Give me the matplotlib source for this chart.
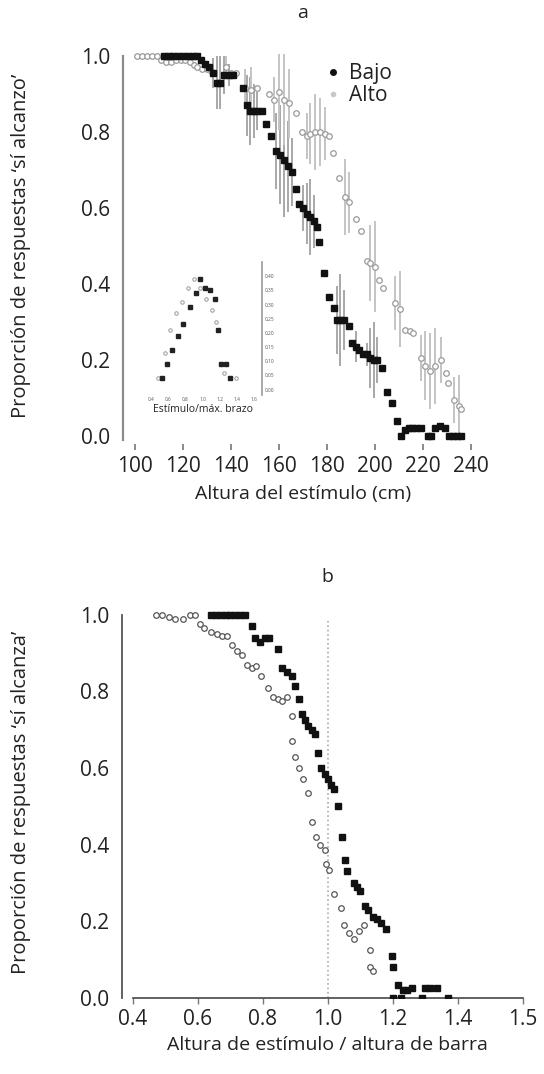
import matplotlib
matplotlib.use('Agg')
import matplotlib.pyplot as plt
from matplotlib.lines import Line2D

plt.rcParams['font.family'] = ['Open Sans', 'DejaVu Sans']

# --- panel a: altura del estimulo (cm) ---
bajo_a_x = [112, 114, 116, 118, 120, 122, 124, 126, 127.5, 129,
            131, 132.5, 134, 135.5, 137, 139, 141, 145, 146.5, 148,
            149.5, 151, 153, 154.6, 156.7, 158.8, 160.5, 162, 163.8, 165.5,
            167, 168.5, 170, 171.5, 173, 174.5, 175.8, 176.8, 178.7, 180.8,
            182.8, 184, 185.5, 187, 189, 190.5, 192, 193.5, 195, 196.5,
            198, 199.5, 201, 202.7, 204.8, 207, 209, 211, 212.5, 214,
            215.5, 217, 219, 222, 223.5, 225, 227, 229, 231, 232.5,
            234, 236]
bajo_a_y = [1.0, 1.0, 1.0, 1.0, 1.0, 1.0, 1.0, 1.0, 0.99, 0.98,
            0.97, 0.955, 0.93, 0.93, 0.95, 0.95, 0.95, 0.915, 0.87, 0.855,
            0.855, 0.855, 0.855, 0.82, 0.79, 0.75, 0.74, 0.725, 0.71, 0.695,
            0.65, 0.61, 0.60, 0.585, 0.575, 0.565, 0.55, 0.51, 0.43, 0.366,
            0.337, 0.305, 0.305, 0.305, 0.29, 0.245, 0.235, 0.225, 0.215, 0.215,
            0.205, 0.20, 0.20, 0.18, 0.115, 0.086, 0.04, 0.0, 0.015, 0.02,
            0.02, 0.02, 0.02, 0.0, 0.0, 0.02, 0.025, 0.02, 0.0, 0.0,
            0.0, 0.0]
bajo_a_err = [0, 0, 0, 0, 0, 0, 0, 0, 0, 0,
              0, 0.04, 0.07, 0.07, 0.05, 0.03, 0, 0, 0.08, 0.09,
              0.07, 0.05, 0, 0, 0, 0.10, 0.13, 0.15, 0.12, 0.09,
              0, 0, 0.06, 0.08, 0.10, 0.07, 0, 0, 0, 0,
              0, 0.09, 0.12, 0.08, 0, 0, 0.04, 0, 0, 0.03,
              0.08, 0.10, 0.06, 0, 0, 0, 0, 0, 0, 0,
              0, 0, 0, 0, 0, 0, 0, 0, 0, 0,
              0, 0]

alto_a_x = [101, 103, 105, 107, 109, 111, 113, 115, 117, 119,
            121, 123, 124.5, 126, 128, 130, 131.5, 138, 140, 142,
            146, 148.5, 151, 156, 158, 160, 162, 164, 167, 169.6,
            171.5, 173, 175, 177, 179, 181, 182.5, 185, 187.5, 189,
            192, 194, 196.5, 198, 200, 201.5, 203.5, 208.5, 210.5, 212.6,
            214.5, 216, 219, 221, 223, 225, 227.6, 229.7, 230.5, 233,
            235, 236]
alto_a_y = [1.0, 1.0, 1.0, 1.0, 1.0, 0.99, 0.985, 0.985, 0.99, 0.99,
            0.99, 0.985, 0.975, 0.97, 0.965, 0.965, 0.96, 0.97, 0.955, 0.955,
            0.915, 0.91, 0.915, 0.90, 0.885, 0.905, 0.885, 0.875, 0.85, 0.80,
            0.79, 0.795, 0.80, 0.80, 0.795, 0.79, 0.745, 0.68, 0.63, 0.615,
            0.57, 0.54, 0.46, 0.455, 0.445, 0.41, 0.39, 0.35, 0.335, 0.28,
            0.275, 0.27, 0.205, 0.185, 0.17, 0.185, 0.20, 0.165, 0.14, 0.095,
            0.08, 0.07]
alto_a_err = [0, 0, 0, 0, 0, 0, 0, 0, 0, 0,
              0, 0, 0, 0, 0, 0, 0, 0.03, 0, 0,
              0.05, 0.06, 0, 0, 0.06, 0.10, 0.12, 0.09, 0, 0,
              0.06, 0.08, 0.10, 0.09, 0.07, 0, 0, 0, 0.10, 0.08,
              0, 0, 0, 0.10, 0.12, 0, 0, 0.07, 0.10, 0,
              0, 0, 0.06, 0.09, 0.10, 0.10, 0.06, 0, 0, 0.06,
              0.08, 0]

# --- inset: estimulo / max. brazo ---
ins_bajo_x = [0.52, 0.58, 0.64, 0.71, 0.77, 0.85, 0.92, 0.97, 1.03, 1.09,
              1.14, 1.18, 1.21, 1.28, 1.32]
ins_bajo_y = [0.04, 0.09, 0.14, 0.19, 0.23, 0.29, 0.34, 0.39, 0.36, 0.35,
              0.32, 0.21, 0.09, 0.09, 0.04]
ins_alto_x = [0.48, 0.56, 0.62, 0.69, 0.76, 0.83, 0.90, 0.97, 1.04, 1.11,
              1.16, 1.25, 1.39]
ins_alto_y = [0.04, 0.13, 0.21, 0.27, 0.31, 0.36, 0.39, 0.36, 0.32, 0.28,
              0.24, 0.06, 0.04]

# --- panel b: altura de estimulo / altura de barra ---
bajo_b_x = [0.64, 0.655, 0.67, 0.685, 0.70, 0.715, 0.73, 0.745, 0.765, 0.775,
            0.79, 0.805, 0.82, 0.846, 0.86, 0.875, 0.89, 0.90, 0.91, 0.92,
            0.93, 0.94, 0.95, 0.96, 0.97, 0.98, 0.99, 1.00, 1.01, 1.02,
            1.03, 1.045, 1.054, 1.06, 1.08, 1.09, 1.10, 1.115, 1.125, 1.14,
            1.15, 1.165, 1.18, 1.197, 1.20, 1.215, 1.23, 1.245, 1.26, 1.30,
            1.315, 1.335, 1.20, 1.225, 1.29, 1.37]
bajo_b_y = [1.0, 1.0, 1.0, 1.0, 1.0, 1.0, 1.0, 1.0, 0.97, 0.94,
            0.93, 0.94, 0.94, 0.91, 0.86, 0.85, 0.84, 0.815, 0.78, 0.74,
            0.725, 0.71, 0.70, 0.69, 0.64, 0.60, 0.585, 0.57, 0.555, 0.545,
            0.50, 0.42, 0.36, 0.33, 0.30, 0.29, 0.28, 0.24, 0.23, 0.21,
            0.205, 0.195, 0.18, 0.11, 0.08, 0.035, 0.02, 0.02, 0.025, 0.025,
            0.025, 0.025, 0.0, 0.0, 0.0, 0.0]
alto_b_x = [0.47, 0.49, 0.51, 0.53, 0.555, 0.575, 0.59, 0.605, 0.62, 0.64,
            0.66, 0.675, 0.69, 0.705, 0.72, 0.735, 0.75, 0.765, 0.78, 0.795,
            0.815, 0.83, 0.845, 0.86, 0.875, 0.89, 0.89, 0.90, 0.91, 0.925,
            0.94, 0.95, 0.965, 0.975, 0.99, 0.995, 1.005, 1.02, 1.04, 1.05,
            1.065, 1.08, 1.095, 1.11, 1.13, 1.13, 1.14]
alto_b_y = [1.0, 1.0, 0.995, 0.99, 0.99, 1.0, 1.0, 0.975, 0.965, 0.955,
            0.95, 0.945, 0.945, 0.92, 0.905, 0.895, 0.87, 0.86, 0.865, 0.84,
            0.81, 0.785, 0.78, 0.775, 0.785, 0.735, 0.67, 0.63, 0.60, 0.57,
            0.535, 0.46, 0.42, 0.40, 0.385, 0.35, 0.335, 0.27, 0.235, 0.19,
            0.17, 0.155, 0.175, 0.19, 0.125, 0.08, 0.07]

yticks = [0.0, 0.2, 0.4, 0.6, 0.8, 1.0]
xticks_a = [100, 120, 140, 160, 180, 200, 220, 240]
xticks_b = [0.4, 0.6, 0.8, 1.0, 1.2, 1.4, 1.6]
xticklabels_b = ['0.4', '0.6', '0.8', '1.0', '1.2', '1.4', '1.5']

txt = '#222222'
grey = '#8a8a8a'
fig = plt.figure(figsize=(5.44, 10.74), dpi=100)

# ---------------- panel a ----------------
ax = fig.add_axes([0.226, 0.587, 0.662, 0.368])
ax.errorbar(bajo_a_x, bajo_a_y, yerr=bajo_a_err, fmt='none', ecolor='#a8a8a8',
            elinewidth=1.4, capsize=0, zorder=1)
ax.errorbar(alto_a_x, alto_a_y, yerr=alto_a_err, fmt='none', ecolor='#c4c4c4',
            elinewidth=1.4, capsize=0, zorder=1)
ax.plot(alto_a_x, alto_a_y, 'o', ms=4, mfc='white', mec='#9a9a9a', mew=0.9, zorder=2)
ax.plot(bajo_a_x, bajo_a_y, 's', ms=4, color='#111111', zorder=3)
ax.set_xlim(95, 245)
ax.set_ylim(-0.02, 1.02)
ax.set_xticks(xticks_a)
ax.set_yticks(yticks)
ax.set_yticklabels([f'{v:.1f}' for v in yticks])
for s in ['top', 'right', 'bottom']:
    ax.spines[s].set_visible(False)
ax.spines['left'].set_color(grey)
ax.spines['left'].set_linewidth(1.6)
ax.spines['left'].set_bounds(-0.01, 1.0)
ax.tick_params(axis='x', length=4, width=1.2, color='#777777', labelsize=15,
               labelcolor=txt, pad=5)
ax.tick_params(axis='y', length=0, labelsize=15, labelcolor=txt, pad=9)
ax.set_xlabel('Altura del estímulo (cm)', fontsize=14, color=txt, labelpad=6)
ax.set_ylabel('Proporción de respuestas ‘sí alcanzo’', fontsize=14.5, color=txt)
ax.yaxis.set_label_coords(-0.255, 0.5)
ax.set_title('a', fontsize=14, color=txt, pad=22)

handles = [Line2D([], [], marker='o', ls='none', ms=4, color='#111111'),
           Line2D([], [], marker='o', ls='none', ms=3, color='#c8c8c8')]
ax.legend(handles, ['Bajo', 'Alto'], loc='upper right', bbox_to_anchor=(0.80, 1.01),
          frameon=False, fontsize=15, handletextpad=0.3, labelspacing=0.05,
          handlelength=1.0, labelcolor=txt)

# inset
ins = fig.add_axes([0.263, 0.632, 0.219, 0.124])
ins.plot(ins_alto_x, ins_alto_y, 'o', ms=2.5, mfc='white', mec='#999999', mew=0.7)
ins.plot(ins_bajo_x, ins_bajo_y, 's', ms=2.5, color='#222222')
ins.set_xlim(0.3, 1.7)
ins.set_ylim(-0.02, 0.45)
ins.patch.set_alpha(0)
for s in ['top', 'left', 'bottom']:
    ins.spines[s].set_visible(False)
ins.spines['right'].set_color('#999999')
ins.spines['right'].set_linewidth(1.2)
ins.yaxis.tick_right()
ins.set_yticks([0, 0.05, 0.1, 0.15, 0.2, 0.25, 0.3, 0.35, 0.4])
ins.tick_params(axis='y', length=0, labelsize=3.5, labelcolor='#555555', pad=2)
ins.set_xticks([0.4, 0.6, 0.8, 1.0, 1.2, 1.4, 1.6])
ins.tick_params(axis='x', length=0, labelsize=3.5, labelcolor='#555555', pad=1)
ins.set_xlabel('Estímulo/máx. brazo', fontsize=7.5, color=txt, labelpad=2)

# ---------------- panel b ----------------
bx = fig.add_axes([0.224, 0.0708, 0.755, 0.364])
bx.plot([1.0, 1.0], [0, 0.985], ls=':', color='#aaaaaa', lw=1.2, zorder=1)
bx.plot(alto_b_x, alto_b_y, 'o', ms=4, mfc='white', mec='#555555', mew=0.9, zorder=2)
bx.plot(bajo_b_x, bajo_b_y, 's', ms=4, color='#111111', zorder=3)
bx.set_xlim(0.366, 1.63)
bx.set_ylim(0, 1.02)
bx.set_xticks(xticks_b)
bx.set_xticklabels(xticklabels_b)
bx.set_yticks(yticks)
bx.set_yticklabels([f'{v:.1f}' for v in yticks])
for s in ['top', 'right']:
    bx.spines[s].set_visible(False)
bx.spines['left'].set_color('#555555')
bx.spines['left'].set_linewidth(1.3)
bx.spines['left'].set_bounds(0, 1.0)
bx.spines['bottom'].set_color('#555555')
bx.spines['bottom'].set_linewidth(1.3)
bx.spines['bottom'].set_bounds(0.4, 1.6)
bx.tick_params(axis='x', length=4, width=1.0, color='#777777', labelsize=15,
               labelcolor=txt, pad=4)
bx.tick_params(axis='y', length=0, labelsize=15, labelcolor=txt, pad=9)
bx.set_xlabel('Altura de estímulo / altura de barra', fontsize=14, color=txt, labelpad=4)
bx.set_ylabel('Proporción de respuestas ‘sí alcanza’', fontsize=14.5, color=txt)
bx.yaxis.set_label_coords(-0.22, 0.5)
bx.set_title('b', fontsize=14, color=txt, pad=18)

fig.savefig('out.png', dpi=100)
